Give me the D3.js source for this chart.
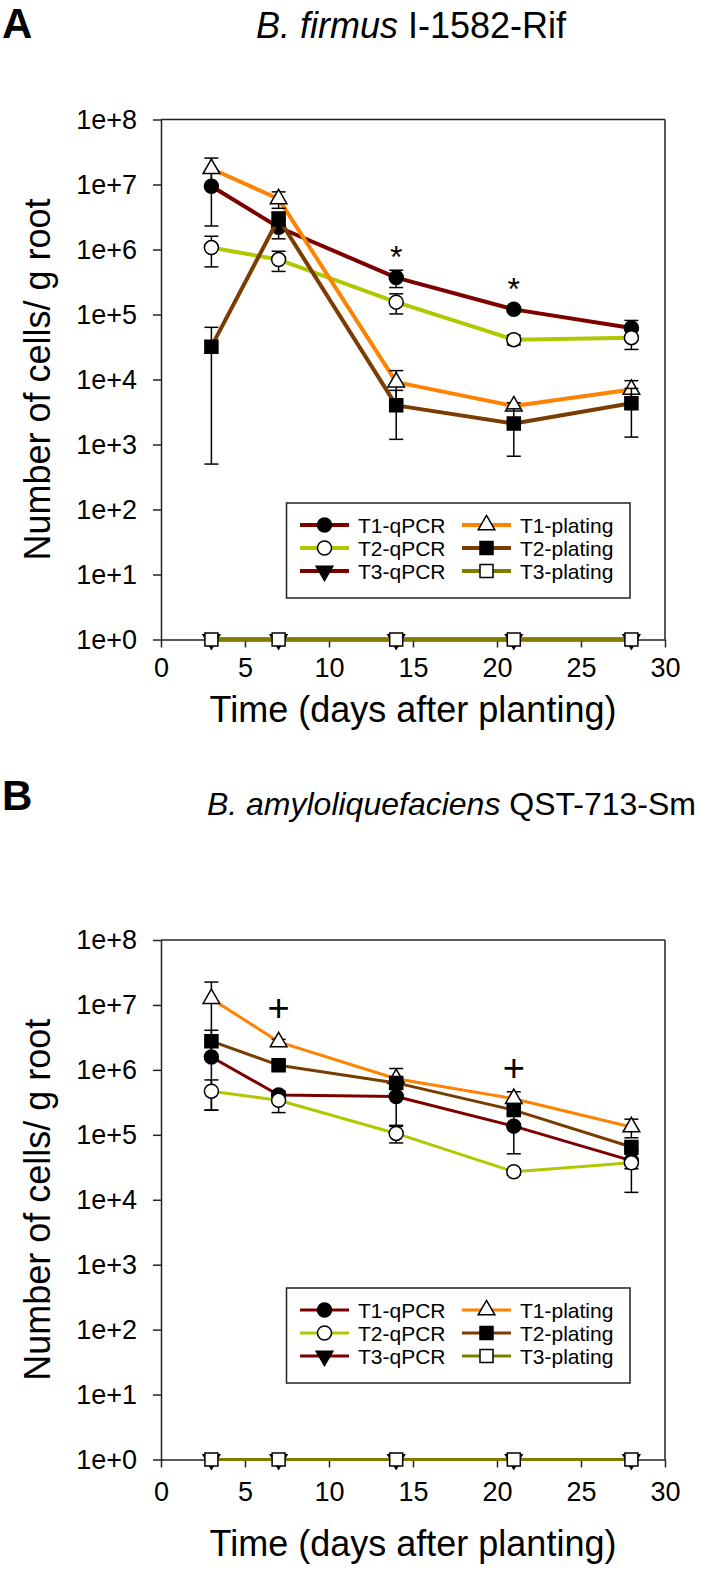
<!DOCTYPE html>
<html><head><meta charset="utf-8">
<script src="https://cdn.jsdelivr.net/npm/d3@7/dist/d3.min.js"></script>
<style>
html,body{margin:0;padding:0;background:#fff;}
svg{display:block;font-family:Arial,"Liberation Sans",sans-serif;}
</style></head>
<body>
<svg id="chart" width="701" height="1573"></svg>
<script>
// ---------- data ----------
const days = [3, 7, 14, 21, 28];
const seriesNames = ["T1-qPCR", "T2-qPCR", "T3-qPCR", "T1-plating", "T2-plating", "T3-plating"];
const xTicks = [0, 5, 10, 15, 20, 25, 30];
const xTickLabels = ["0", "5", "10", "15", "20", "25", "30"];
const yTicks = [1, 1e1, 1e2, 1e3, 1e4, 1e5, 1e6, 1e7, 1e8];
const yTickLabels = ["1e+0", "1e+1", "1e+2", "1e+3", "1e+4", "1e+5", "1e+6", "1e+7", "1e+8"];

// Panel A: B. firmus I-1582-Rif
const a_T1qPCR      = [9.4e6, 2.2e6, 3.7e5, 1.2e5, 6.2e4];
const a_T1qPCR_err  = [7.1e6, 7.4e5, 1.1e5, 1.2e4, 1.9e4];
const a_T2qPCR      = [1.07e6, 7.0e5, 1.55e5, 4.1e4, 4.4e4];
const a_T2qPCR_err  = [5.3e5, 2.4e5, 5.3e4, 7e3, 1.5e4];
const a_T3qPCR      = [1, 1, 1, 1, 1];
const a_T1plat      = [1.75e7, 6.0e6, 9.1e3, 3.9e3, 7.0e3];
const a_T1plat_err  = [8e6, 1.7e6, 4.6e3, 5e2, 2.6e3];
const a_T2plat      = [3.2e4, 3.0e6, 4.0e3, 2.1e3, 4.3e3];
const a_T2plat_err  = [3.15e4, 7e5, 2.8e3, 1.44e3, 3.0e3];
const a_T3plat      = [1, 1, 1, 1, 1];
const a_sigDays     = [14, 21];
const a_sigValues   = [1.0e6, 3.2e5];

// Panel B: B. amyloliquefaciens QST-713-Sm
const b_T1qPCR      = [1.58e6, 4.1e5, 3.9e5, 1.36e5, 4.0e4];
const b_T1qPCR_err  = [1.34e6, 6e4, 2.5e5, 8.5e4, 1e4];
const b_T2qPCR      = [4.7e5, 3.4e5, 1.05e5, 2.7e4, 3.7e4];
const b_T2qPCR_err  = [2.3e5, 1.2e5, 3.0e4, 3e3, 2.4e4];
const b_T3qPCR      = [1, 1, 1, 1, 1];
const b_T1plat      = [1.25e7, 2.7e6, 7.3e5, 3.6e5, 1.32e5];
const b_T1plat_err  = [1.0e7, 2.5e5, 3.2e5, 1.0e5, 4.2e4];
const b_T2plat      = [2.77e6, 1.18e6, 6.3e5, 2.4e5, 6.5e4];
const b_T2plat_err  = [1.3e6, 1.8e5, 1.2e5, 4e4, 8e3];
const b_T3plat      = [1, 1, 1, 1, 1];
const b_sigDays     = [7, 21];
const b_sigValues   = [8.9e6, 1.05e6];

// ---------- styles ----------
const lineColors = ["#7d0000", "#b0c800", "#7d0000", "#ff8200", "#7a3c00", "#807c00"];
const markerShapes = ["circle", "circle", "triDown", "triUp", "square", "square"];
const markerFills = ["#000", "#fff", "#000", "#fff", "#000", "#fff"];

const svg = d3.select("#chart");
svg.append("rect").attr("width", 701).attr("height", 1573).attr("fill", "#fff");

const X0 = 161, X1 = 665;
const x = d3.scaleLinear().domain([0, 30]).range([X0, X1]);

function symbolPath(shape) {
  if (shape === "circle") return d3.symbol(d3.symbolCircle, 154)();
  if (shape === "square") return d3.symbol(d3.symbolSquare, 169)();
  return d3.symbol(d3.symbolTriangle, 120)();
}
function drawMarker(g, shape, fill, cx, cy) {
  g.append("path")
    .attr("d", symbolPath(shape))
    .attr("transform", `translate(${cx},${cy})` + (shape === "triDown" ? " rotate(180)" : ""))
    .attr("fill", fill).attr("stroke", "#000").attr("stroke-width", 1.5);
}

const panels = [
  {
    letter: "A", titleItalic: "B. firmus", titleRest: " I-1582-Rif", titleSize: 36, titleX: 411, titleY: 38, titleAnchor: "middle", letterY: 38,
    top: 119.5, bottom: 639.5, legendTop: 503, lw: 4, tickPad: 10, xTitleOff: 82,
    values: [a_T1qPCR, a_T2qPCR, a_T3qPCR, a_T1plat, a_T2plat, a_T3plat],
    errs: [a_T1qPCR_err, a_T2qPCR_err, null, a_T1plat_err, a_T2plat_err, null],
    sigDays: a_sigDays, sigValues: a_sigValues, sigChar: "*"
  },
  {
    letter: "B", titleItalic: "B. amyloliquefaciens", titleRest: " QST-713-Sm", titleSize: 32, titleX: 696, titleY: 815, titleAnchor: "end", letterY: 810,
    top: 940, bottom: 1459.5, legendTop: 1288, lw: 3, tickPad: 14, xTitleOff: 96,
    values: [b_T1qPCR, b_T2qPCR, b_T3qPCR, b_T1plat, b_T2plat, b_T3plat],
    errs: [b_T1qPCR_err, b_T2qPCR_err, null, b_T1plat_err, b_T2plat_err, null],
    sigDays: b_sigDays, sigValues: b_sigValues, sigChar: "+"
  }
];

panels.forEach(p => {
  const y = d3.scaleLog().domain([1, 1e8]).range([p.bottom, p.top]);
  const g = svg.append("g");

  // panel letter and title
  g.append("text").attr("x", 2).attr("y", p.letterY).attr("font-size", 42).attr("font-weight", "bold").text(p.letter);
  const t = g.append("text").attr("x", p.titleX).attr("y", p.titleY).attr("font-size", p.titleSize).attr("text-anchor", p.titleAnchor);
  t.append("tspan").attr("font-style", "italic").text(p.titleItalic);
  t.append("tspan").text(p.titleRest);

  // frame (top and right)
  g.append("line").attr("x1", X0).attr("x2", X1).attr("y1", p.top).attr("y2", p.top).attr("stroke", "#222").attr("stroke-width", 1.5);
  g.append("line").attr("x1", X1).attr("x2", X1).attr("y1", p.top).attr("y2", p.bottom).attr("stroke", "#222").attr("stroke-width", 1.5);

  // axes
  const yAxis = d3.axisLeft(y).tickValues(yTicks).tickFormat((d, i) => yTickLabels[i]).tickSize(8).tickSizeOuter(0).tickPadding(16);
  const ya = g.append("g").attr("transform", `translate(${X0},0)`).call(yAxis);
  ya.selectAll("text").attr("font-size", 27).attr("fill", "#000").attr("font-family", "Arial, 'Liberation Sans', sans-serif");
  const xAxis = d3.axisBottom(x).tickValues(xTicks).tickFormat((d, i) => xTickLabels[i]).tickSize(8).tickSizeOuter(0).tickPadding(p.tickPad);
  const xa = g.append("g").attr("transform", `translate(0,${p.bottom})`).call(xAxis);
  xa.selectAll("text").attr("font-size", 27).attr("fill", "#000").attr("font-family", "Arial, 'Liberation Sans', sans-serif");
  [ya, xa].forEach(a => {
    a.select(".domain").attr("stroke", "#222").attr("stroke-width", 1.5);
    a.selectAll(".tick line").attr("stroke", "#222").attr("stroke-width", 1.5);
  });

  // axis titles
  g.append("text").attr("x", (X0 + X1) / 2).attr("y", p.bottom + p.xTitleOff).attr("text-anchor", "middle").attr("font-size", 36).text("Time (days after planting)");
  g.append("text").attr("transform", `translate(50,${(p.top + p.bottom) / 2}) rotate(-90)`).attr("text-anchor", "middle").attr("font-size", 36).text("Number of cells/ g root");

  // series
  const line = d3.line().x((d, i) => x(days[i])).y(d => y(d));
  seriesNames.forEach((name, si) => {
    const vals = p.values[si];
    const errs = p.errs[si];
    const sg = g.append("g");
    sg.append("path").attr("d", line(vals)).attr("fill", "none").attr("stroke", lineColors[si]).attr("stroke-width", p.lw).attr("stroke-linejoin", "round");
    if (errs) {
      vals.forEach((v, i) => {
        const lo = Math.max(v - errs[i], 1), hi = v + errs[i];
        const cx = x(days[i]);
        sg.append("line").attr("x1", cx).attr("x2", cx).attr("y1", y(lo)).attr("y2", y(hi)).attr("stroke", "#000").attr("stroke-width", 1.5);
        [lo, hi].forEach(e => {
          sg.append("line").attr("x1", cx - 7).attr("x2", cx + 7).attr("y1", y(e)).attr("y2", y(e)).attr("stroke", "#000").attr("stroke-width", 1.5);
        });
      });
    }
    vals.forEach((v, i) => drawMarker(sg, markerShapes[si], markerFills[si], x(days[i]), y(v)));
  });

  // significance marks
  p.sigDays.forEach((d, i) => {
    const fs = p.sigChar === "*" ? 32 : 38;
    const off = p.sigChar === "*" ? 0.57 : 0.34;
    g.append("text").attr("x", x(d)).attr("y", y(p.sigValues[i]) + off * fs).attr("text-anchor", "middle")
      .attr("font-size", fs).text(p.sigChar);
  });

  // legend
  const L = g.append("g");
  const lx0 = 286.5, lx1 = 630;
  L.append("rect").attr("x", lx0).attr("y", p.legendTop).attr("width", lx1 - lx0).attr("height", 95)
    .attr("fill", "#fff").attr("stroke", "#222").attr("stroke-width", 1.5);
  seriesNames.forEach((name, si) => {
    const col = si < 3 ? 0 : 1, row = si % 3;
    const ry = p.legendTop + 22 + row * 23;
    const sx0 = col === 0 ? 300 : 462;
    L.append("line").attr("x1", sx0).attr("x2", sx0 + 49).attr("y1", ry).attr("y2", ry).attr("stroke", lineColors[si]).attr("stroke-width", p.lw);
    drawMarker(L, markerShapes[si], markerFills[si], sx0 + 24.5, ry);
    L.append("text").attr("x", sx0 + 58).attr("y", ry + 7.5).attr("font-size", 21).text(name);
  });
});
</script>
</body></html>
